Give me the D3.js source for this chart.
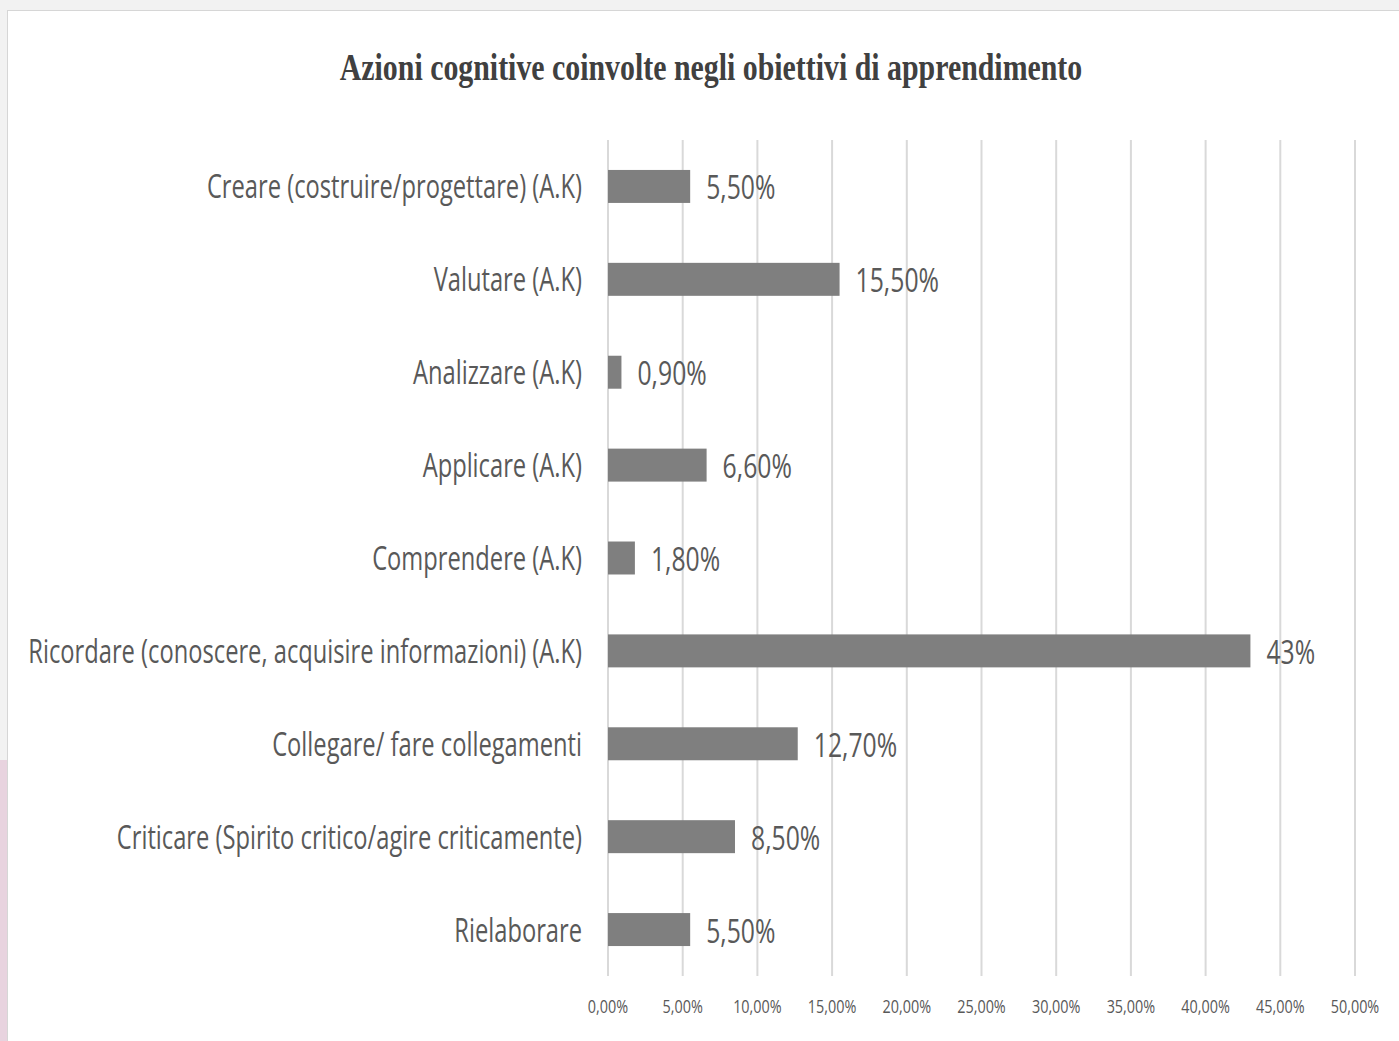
<!DOCTYPE html>
<html>
<head>
<meta charset="utf-8">
<script src="https://cdn.jsdelivr.net/npm/d3@7"></script>
<style>
  html, body { margin: 0; padding: 0; background: #f2f2f2; }
  svg { display: block; }
</style>
</head>
<body>
<svg id="viz" width="1399" height="1041"></svg>
<script>
// --- Data ---
const categories = [
    "Creare (costruire/progettare) (A.K)",
    "Valutare (A.K)",
    "Analizzare (A.K)",
    "Applicare (A.K)",
    "Comprendere (A.K)",
    "Ricordare (conoscere, acquisire informazioni) (A.K)",
    "Collegare/ fare collegamenti",
    "Criticare (Spirito critico/agire criticamente)",
    "Rielaborare"
];
const values = [0.055, 0.155, 0.009, 0.066, 0.018, 0.43, 0.127, 0.085, 0.055];
const valueLabels = ["5,50%", "15,50%", "0,90%", "6,60%", "1,80%", "43%", "12,70%", "8,50%", "5,50%"];
const tickValues = [0, 0.05, 0.10, 0.15, 0.20, 0.25, 0.30, 0.35, 0.40, 0.45, 0.50];
const tickLabels = ["0,00%", "5,00%", "10,00%", "15,00%", "20,00%", "25,00%", "30,00%", "35,00%", "40,00%", "45,00%", "50,00%"];
const title = "Azioni cognitive coinvolte negli obiettivi di apprendimento";

const CONFIG = {
    bar: "#7f7f7f",
    grid: "#d9d9d9",
    text: "#595959",
    title: "#404040",
    sans: "'Open Sans', 'Noto Sans', sans-serif",
    serif: "'Liberation Serif', 'DejaVu Serif', serif",
    squeeze: 0.75   // the reference fonts are horizontally condensed
};

const svg = d3.select("#viz");

// --- Backdrop (screenshot frame) ---
svg.append("rect").attr("x", 0).attr("y", 0).attr("width", 1399).attr("height", 1041).attr("fill", "#f2f2f2");
svg.append("rect").attr("x", 0).attr("y", 760).attr("width", 7).attr("height", 281).attr("fill", "#e8d3df");
svg.append("rect")
    .attr("x", 7.5).attr("y", 10.5).attr("width", 1400).attr("height", 1040)
    .attr("fill", "#fff").attr("stroke", "#d6d6d6").attr("stroke-width", 1);

// --- Scales ---
const x = d3.scaleLinear().domain([0, 0.5]).range([608, 1355]);
const y = d3.scaleBand().domain(categories).range([140, 976])
    .paddingInner(0.645).paddingOuter(0.3225);

// --- Gridlines ---
svg.append("g")
    .selectAll("line")
    .data(tickValues)
    .join("line")
    .attr("x1", d => x(d)).attr("x2", d => x(d))
    .attr("y1", 140).attr("y2", 976)
    .attr("stroke", CONFIG.grid)
    .attr("stroke-width", 2);

// --- Bars ---
svg.append("g")
    .selectAll("rect")
    .data(values)
    .join("rect")
    .attr("x", x(0))
    .attr("y", (d, i) => y(categories[i]))
    .attr("width", d => x(d) - x(0))
    .attr("height", y.bandwidth())
    .attr("fill", CONFIG.bar);

// helper: condensed text by scaling x around the anchor point
function squeezed(sel, ax, ay) {
    sel.attr("transform", `translate(${ax},${ay}) scale(${CONFIG.squeeze},1)`);
}

// --- Category labels ---
const catG = svg.append("g");
catG.selectAll("text")
    .data(categories)
    .join("text")
    .attr("text-anchor", "end")
    .attr("font-family", CONFIG.sans)
    .attr("font-size", 33)
    .attr("fill", CONFIG.text)
    .text(d => d);

// fit the long category label to the reference width, same squeeze for all
const longest = catG.selectAll("text").filter(d => d === categories[5]).node();
const k = 554 / longest.getComputedTextLength();
catG.selectAll("text").each(function(d) {
    const yy = y(d) + y.bandwidth() / 2 + 12;
    d3.select(this).attr("transform", `translate(${x(0) - 26},${yy}) scale(${k},1)`);
});

// --- Value labels ---
svg.append("g")
    .selectAll("text")
    .data(values)
    .join("text")
    .attr("font-family", CONFIG.sans)
    .attr("font-size", 33)
    .attr("fill", CONFIG.text)
    .each(function(d, i) {
        squeezed(d3.select(this), x(d) + 16, y(categories[i]) + y.bandwidth() / 2 + 13);
    })
    .text((d, i) => valueLabels[i]);

// --- Axis tick labels ---
svg.append("g")
    .selectAll("text")
    .data(tickValues)
    .join("text")
    .attr("text-anchor", "middle")
    .attr("font-family", CONFIG.sans)
    .attr("font-size", 18)
    .attr("fill", CONFIG.text)
    .each(function(d) {
        d3.select(this).attr("transform", `translate(${x(d)},1013) scale(0.8,1)`);
    })
    .text((d, i) => tickLabels[i]);

// --- Title ---
const t = svg.append("text")
    .attr("text-anchor", "middle")
    .attr("font-family", CONFIG.serif)
    .attr("font-weight", "bold")
    .attr("font-size", 38)
    .attr("fill", CONFIG.title)
    .text(title);
const tw = t.node().getComputedTextLength();
t.attr("transform", `translate(711,80) scale(${743 / tw},1)`);
</script>
</body>
</html>
